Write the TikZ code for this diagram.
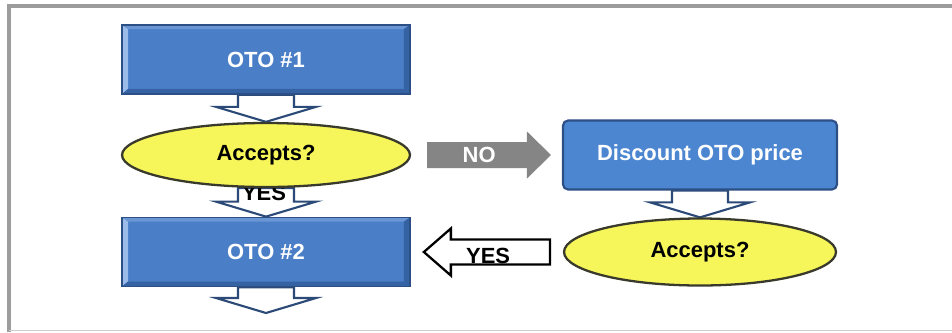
\documentclass[tikz,border=0pt]{standalone}
\usepackage{fontspec}
\setmainfont{Liberation Sans}
\usetikzlibrary{calc,backgrounds,shapes.geometric}

\definecolor{boxblue}{HTML}{4A7EC7}
\definecolor{boxedge}{HTML}{2C4F86}
\definecolor{bevlight}{HTML}{9BBCE8}
\definecolor{bevdark}{HTML}{3462A3}
\definecolor{discblue}{HTML}{4C86D1}
\definecolor{acceptyellow}{HTML}{F6F65A}
\definecolor{ellipseedge}{HTML}{3A3A2C}
\definecolor{arrowedge}{HTML}{2C4A78}
\definecolor{nogray}{HTML}{858585}
\definecolor{framegray}{HTML}{9C9C9C}

\newcommand{\boxfont}{\fontsize{12.5}{14}\selectfont\bfseries}

% block arrow pointing down, from one node to the next
\newcommand{\downblock}[2]{%
  \path (#2) ++(0,-15) coordinate (hd);
  \draw[downarrow] ($(#1)+(-28,0)$) coordinate (sl) -- (sl |- hd) -- ++(-22,0) -- (#1 |- #2)
    -- ($(sl |- hd)+(78,0)$) -- ++(-22,0) -- ($(#1)+(28,0)$) -- cycle;}

\begin{document}
\begin{tikzpicture}[x=0.02cm, y=-0.02cm,
  otobox/.style={rectangle, draw=boxedge, line width=1pt, fill=boxblue,
    minimum width=5.76cm, minimum height=1.38cm, text=white, font=\boxfont,
    path picture={
      \fill[bevlight] (path picture bounding box.north west) -- (path picture bounding box.south west)
        -- ++(0.12cm,0.1cm) -- ($(path picture bounding box.north west)+(0.12cm,-0.08cm)$) -- cycle;
      \fill[boxblue!60!bevlight] (path picture bounding box.north west) -- (path picture bounding box.north east)
        -- ++(-0.12cm,-0.08cm) -- ($(path picture bounding box.north west)+(0.12cm,-0.08cm)$) -- cycle;
      \fill[bevdark] (path picture bounding box.north east) -- (path picture bounding box.south east)
        -- ++(-0.12cm,0.1cm) -- ($(path picture bounding box.north east)+(-0.12cm,-0.08cm)$) -- cycle;
      \fill[bevdark] (path picture bounding box.south west) -- (path picture bounding box.south east)
        -- ++(-0.12cm,0.1cm) -- ($(path picture bounding box.south west)+(0.12cm,0.1cm)$) -- cycle;
    }},
  discbox/.style={rectangle, rounded corners=0.1cm, draw=boxedge, line width=1.2pt, fill=discblue,
    minimum width=5.48cm, minimum height=1.38cm, text=white, font=\boxfont},
  acceptsoval/.style={ellipse, draw=ellipseedge, line width=1.3pt, fill=acceptyellow,
    minimum width=5.76cm, minimum height=1.28cm, inner sep=0pt, font=\boxfont},
  downarrow/.style={draw=arrowedge, fill=white, line width=1.2pt, line join=miter},
  noarrow/.style={fill=nogray},
  yesarrow/.style={draw=black, fill=white, line width=1.3pt, line join=miter},
  arrowtext/.style={font=\boxfont, inner sep=0pt}]
  \useasboundingbox (0,0) rectangle (952,332);
  \node (oto1) [otobox] at (266,59.5) {OTO \#1};
  \node (acc1) [acceptsoval] at (266,155) {Accepts?};
  \node (oto2) [otobox] at (266,252) {OTO \#2};
  \node (disc) [discbox] at (700,155) {Discount OTO price};
  \node (acc2) [acceptsoval, minimum width=5.44cm, minimum height=1.34cm] at (700,252) {Accepts?};
  \coordinate (end3) at (266,313);
  %NO
  \coordinate (ns) at ($(acc1.east)+(16,0)$);
  \coordinate (nt) at ($(disc.west)+(-11,0)$);
  \fill[noarrow] ($(ns)+(0,-13)$) -- ($(nt)+(-24,-13)$) -- ($(nt)+(-24,-23.5)$) -- (nt)
    -- ($(nt)+(-24,23.5)$) -- ($(nt)+(-24,13)$) -- ($(ns)+(0,13)$) -- cycle;
  \node (nolab) [arrowtext, text=white] at ($(ns)!.42!(nt)$) {NO};
  %YES zurueck
  \coordinate (ys) at ($(acc2.west)+(-13,0)$);
  \coordinate (yt) at ($(oto2.east)+(13,0)$);
  \draw[yesarrow] ($(ys)+(0,-12.5)$) -- ($(yt)+(27,-12.5)$) -- ($(yt)+(27,-23.5)$) -- (yt)
    -- ($(yt)+(27,23.5)$) -- ($(yt)+(27,12.5)$) -- ($(ys)+(0,12.5)$) -- cycle;
  \node (yeslab2) [arrowtext] at ($(ys)!.49!(yt)+(0,4)$) {YES};
  \begin{scope}[on background layer]
    \fill[white] (0,0) rectangle (952,332);
    \draw[framegray, line width=2.5pt] (9,332) -- (9,6) -- (952,6);
    \draw[framegray!50, line width=0.8pt] (9,330.5) -- (952,330.5);
    \downblock{oto1.south}{acc1.north}
    \downblock{acc1.south}{oto2.north}
    \downblock{oto2.south}{end3}
    \downblock{disc.south}{acc2.north}
    \node (yeslab1) [arrowtext] at (264,193) {YES};
  \end{scope}
\end{tikzpicture}
\end{document}
